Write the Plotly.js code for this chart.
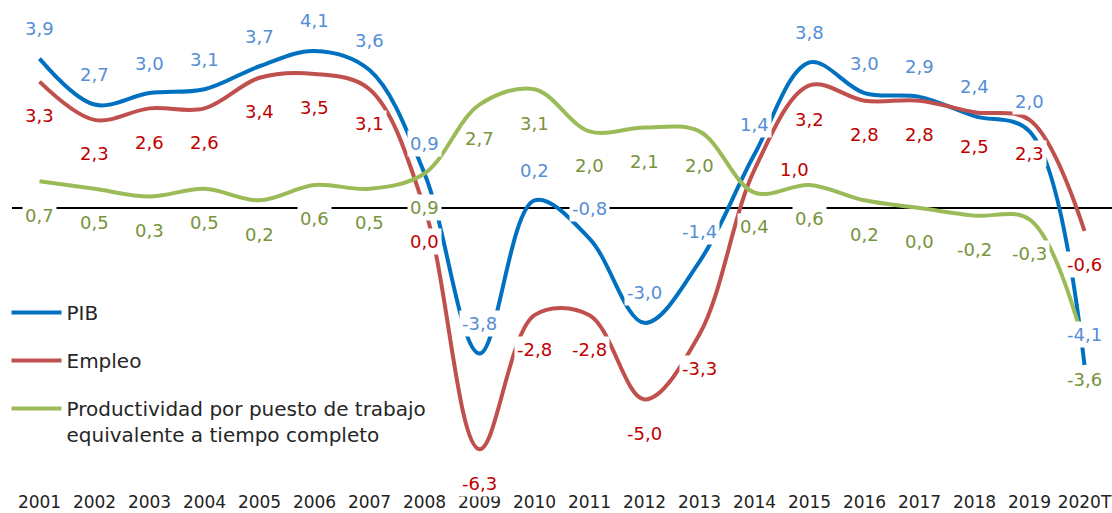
<!DOCTYPE html>
<html>
<head>
<meta charset="utf-8">
<script src="https://cdn.plot.ly/plotly-3.0.1.min.js"></script>
<style>html,body{margin:0;padding:0;background:#fff;}#chart{width:1112px;height:513px;}</style>
</head>
<body>
<div id="chart"></div>
<script>
const years = ['2001','2002','2003','2004','2005','2006','2007','2008','2009','2010','2011','2012','2013','2014','2015','2016','2017','2018','2019','2020T'];
const pib = [3.9, 2.7, 3.0, 3.1, 3.7, 4.1, 3.6, 0.9, -3.8, 0.2, -0.8, -3.0, -1.4, 1.4, 3.8, 3.0, 2.9, 2.4, 2.0, -4.1];
const empleo = [3.3, 2.3, 2.6, 2.6, 3.4, 3.5, 3.1, 0.0, -6.3, -2.8, -2.8, -5.0, -3.3, 1.0, 3.2, 2.8, 2.8, 2.5, 2.3, -0.6];
const productividad = [0.7, 0.5, 0.3, 0.5, 0.2, 0.6, 0.5, 0.9, 2.7, 3.1, 2.0, 2.1, 2.0, 0.4, 0.6, 0.2, 0.0, -0.2, -0.3, -3.6];
const seriesNames = ['PIB', 'Empleo', 'Productividad por puesto de trabajo<br>equivalente a tiempo completo'];

const lineColors = ['#0070C0', '#C0504D', '#9BBB59'];
const labelColors = ['#558ED5', '#C00000', '#77933C'];
const labelShift = [30, -34, -34];
// label moved beside the line in the original (Empleo 2014)
const labelOverride = {'1-13': {xshift: 40, yshift: 0}};
const allSeries = [pib, empleo, productividad];
const FONT = '"DejaVu Sans", sans-serif';

const traces = allSeries.map((vals, k) => ({
  x: years, y: vals, type: 'scatter', mode: 'lines',
  name: seriesNames[k], legendgroup: 'g' + k,
  line: {color: lineColors[k], width: 4, shape: 'spline', smoothing: 1},
  hoverinfo: 'skip'
}));

const annotations = [];
allSeries.forEach((vals, k) => {
  vals.forEach((v, i) => {
    const ov = labelOverride[k + '-' + i] || {};
    annotations.push({
      x: i, y: v, xref: 'x', yref: 'y',
      text: v.toFixed(1).replace('.', ','),
      showarrow: false,
      yshift: ov.yshift !== undefined ? ov.yshift : labelShift[k],
      xshift: ov.xshift || 0,
      bgcolor: '#ffffff', borderpad: 2,
      font: {family: FONT, size: 18, color: labelColors[k]}
    });
  });
});

const layout = {
  width: 1112, height: 513,
  margin: {l: 12, r: 0, t: 0, b: 27},
  paper_bgcolor: '#ffffff', plot_bgcolor: '#ffffff',
  font: {family: FONT, color: '#262626'},
  showlegend: true,
  legend: {
    x: -0.005, xanchor: 'left', y: 0.397, yanchor: 'top',
    bgcolor: 'rgba(0,0,0,0)', font: {family: FONT, size: 20, color: '#262626'},
    tracegroupgap: 19, itemwidth: 50, valign: 'top', traceorder: 'grouped'
  },
  xaxis: {
    type: 'category', range: [-0.5, 19.5], showgrid: false, showline: false,
    zeroline: false, ticks: '', tickfont: {family: FONT, size: 17, color: '#222222'},
    ticklabelstandoff: 4, fixedrange: true
  },
  yaxis: {
    range: [-7.26, 5.43], showgrid: false, showline: false, showticklabels: false,
    ticks: '', zeroline: true, zerolinecolor: '#000000', zerolinewidth: 2, fixedrange: true
  },
  annotations: annotations
};

Plotly.newPlot('chart', traces, layout, {displayModeBar: false, staticPlot: true});
</script>
</body>
</html>
